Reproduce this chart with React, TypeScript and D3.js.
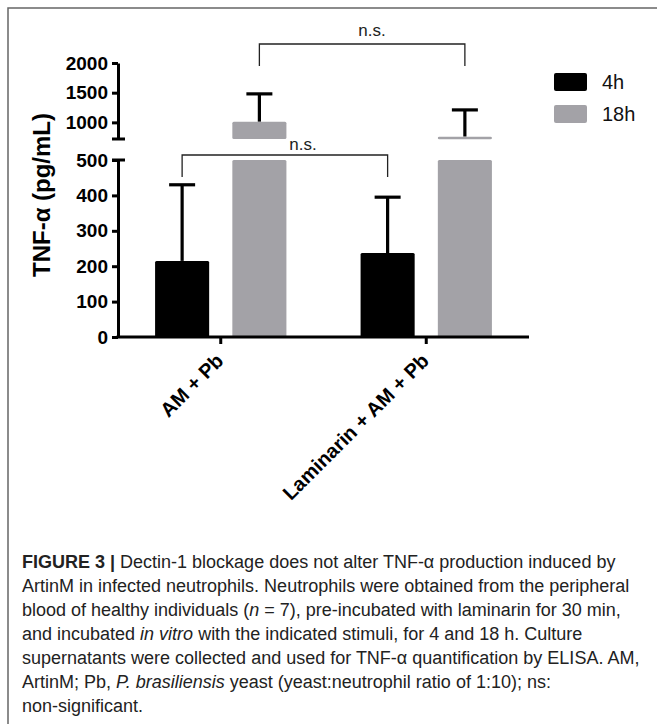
import React, { useEffect, useRef } from "react";
import * as d3 from "d3";

// groups and series
const groups = ["AM + Pb", "Laminarin + AM + Pb"];
const series = ["4h", "18h"];
const colors = ["#000000", "#a3a2a7"];

// means (pg/mL) and upper error (SD) per group
const mean4h = [215, 237];
const mean18h = [1010, 760];
const err4h = [215, 158];
const err18h = [470, 450];

const lowerTicks = [0, 100, 200, 300, 400, 500];
const upperTicks = [1000, 1500, 2000];

const caption = [
  [["b", "FIGURE 3 | "], ["r", "Dectin-1 blockage does not alter TNF-α production induced by"]],
  [["r", "ArtinM in infected neutrophils. Neutrophils were obtained from the peripheral"]],
  [["r", "blood of healthy individuals ("], ["i", "n"], ["r", " = 7), pre-incubated with laminarin for 30 min,"]],
  [["r", "and incubated "], ["i", "in vitro"], ["r", " with the indicated stimuli, for 4 and 18 h. Culture"]],
  [["r", "supernatants were collected and used for TNF-α quantification by ELISA. AM,"]],
  [["r", "ArtinM; Pb, "], ["i", "P. brasiliensis"], ["r", " yeast (yeast:neutrophil ratio of 1:10); ns:"]],
  [["r", "non-significant."]],
];

export default function App() {
  const ref = useRef<SVGSVGElement>(null);

  useEffect(() => {
    draw();
  }, []);

  const draw = () => {
    const svg = d3.select(ref.current);
    svg.selectAll("*").remove();

    // frame round the figure
    svg.append("rect")
      .attr("x", 8).attr("y", 8)
      .attr("width", 700).attr("height", 760)
      .attr("fill", "none").attr("stroke", "#666").attr("stroke-width", 1.5);

    const axisX = 118, xEnd = 529;
    const x0 = d3.scaleBand().domain(groups).range([axisX, xEnd]);
    const x1 = d3.scaleBand().domain(series).range([0, x0.bandwidth()])
      .paddingInner(0.3).paddingOuter(0.48);

    // broken y axis: two segments
    const yLow = d3.scaleLinear().domain([0, 500]).range([337, 160]);
    const yUp = d3.scaleLinear().domain([720, 2000]).range([139, 63]);
    const lowMax = 500, upMin = 720;

    const font = "'Liberation Sans', Arial, sans-serif";

    const g = svg.append("g");

    // bars
    const rows = groups.map((gr, i) => [
      { g: gr, s: series[0], v: mean4h[i], e: err4h[i], c: colors[0] },
      { g: gr, s: series[1], v: mean18h[i], e: err18h[i], c: colors[1] },
    ]).flat();

    rows.forEach(d => {
      const bx = x0(d.g)! + x1(d.s)!;
      const bw = x1.bandwidth();
      const cx = bx + bw / 2;
      const top = d.v + d.e;
      // error bar (drawn under the bar)
      const sw = 3.2, cap = 26;
      const ys = d.v > upMin ? yUp : yLow;
      g.append("line").attr("x1", cx).attr("x2", cx)
        .attr("y1", ys(d.v)).attr("y2", ys(top))
        .attr("stroke", "#000").attr("stroke-width", sw);
      g.append("line").attr("x1", cx - cap / 2).attr("x2", cx + cap / 2)
        .attr("y1", ys(top)).attr("y2", ys(top))
        .attr("stroke", "#000").attr("stroke-width", sw);
      // lower piece
      const lv = Math.min(d.v, lowMax);
      g.append("rect")
        .attr("x", bx).attr("width", bw)
        .attr("y", yLow(lv)).attr("height", yLow(0) - yLow(lv))
        .attr("rx", 1.5)
        .attr("fill", d.c);
      // upper piece
      if (d.v > upMin) {
        g.append("rect")
          .attr("x", bx).attr("width", bw)
          .attr("y", yUp(d.v)).attr("height", Math.max(2.5, yUp(upMin) - yUp(d.v)))
          .attr("rx", 1.5)
          .attr("fill", d.c);
      }
    });

    // y axes
    const styleAxis = (sel: any) => {
      sel.select(".domain").attr("stroke", "#000").attr("stroke-width", 3);
      sel.selectAll(".tick line").attr("stroke", "#000").attr("stroke-width", 3);
      sel.selectAll(".tick text")
        .attr("font-family", font).attr("font-weight", "bold")
        .attr("font-size", 19).attr("fill", "#000");
    };
    const fmt = d3.format("d");
    const lowAxis = svg.append("g").attr("transform", `translate(${axisX},0)`)
      .call(d3.axisLeft(yLow).tickValues(lowerTicks).tickFormat(fmt as any)
        .tickSize(6).tickSizeOuter(0).tickPadding(4));
    styleAxis(lowAxis);
    const upAxis = svg.append("g").attr("transform", `translate(${axisX},0)`)
      .call(d3.axisLeft(yUp).tickValues(upperTicks).tickFormat(fmt as any)
        .tickSize(6).tickSizeOuter(0).tickPadding(4));
    styleAxis(upAxis);

    // break caps crossing the axis
    [yLow(lowMax), yUp(upMin)].forEach(yy => {
      svg.append("line").attr("x1", axisX - 6).attr("x2", axisX + 7)
        .attr("y1", yy).attr("y2", yy)
        .attr("stroke", "#000").attr("stroke-width", 3);
    });

    // x axis
    const xAxis = svg.append("g").attr("transform", `translate(0,${yLow(0)})`)
      .call(d3.axisBottom(x0).tickSize(7).tickSizeOuter(0).tickFormat(() => ""));
    xAxis.select(".domain").attr("stroke", "#000").attr("stroke-width", 3)
      .attr("d", `M${axisX - 1.5},0H${xEnd}`);
    xAxis.selectAll(".tick line").attr("stroke", "#000").attr("stroke-width", 3);

    groups.forEach(gr => {
      const cx = x0(gr)! + x0.bandwidth() / 2;
      svg.append("text")
        .attr("transform", `translate(${cx + 4},${yLow(0) + 25}) rotate(-45)`)
        .attr("text-anchor", "end")
        .attr("font-family", font).attr("font-weight", "bold")
        .attr("font-size", 20)
        .text(gr);
    });

    // y title
    svg.append("text")
      .attr("transform", "translate(50,195) rotate(-90)")
      .attr("text-anchor", "middle")
      .attr("font-family", font).attr("font-weight", "bold")
      .attr("font-size", 24)
      .text("TNF-α (pg/mL)");

    // significance brackets
    const center = (gr: string, s: string) => x0(gr)! + x1(s)! + x1.bandwidth() / 2;
    const brackets = [
      { s: "18h", y: 44, drop: 66, label: "n.s.", lx: 372, ly: 36 },
      { s: "4h", y: 155, drop: 177, label: "n.s.", lx: 303, ly: 150 },
    ];
    brackets.forEach(b => {
      const xa = center(groups[0], b.s), xb = center(groups[1], b.s);
      svg.append("path")
        .attr("d", `M${xa},${b.drop}V${b.y}H${xb}V${b.drop}`)
        .attr("fill", "none").attr("stroke", "#222").attr("stroke-width", 1.3);
      svg.append("text")
        .attr("x", b.lx).attr("y", b.ly)
        .attr("text-anchor", "middle")
        .attr("font-family", font).attr("font-size", 17).attr("fill", "#222")
        .text(b.label);
    });

    // legend
    series.forEach((s, i) => {
      const ly = 73 + i * 32;
      svg.append("rect")
        .attr("x", 554).attr("y", ly).attr("width", 33).attr("height", 18)
        .attr("rx", 2).attr("fill", colors[i]);
      svg.append("text")
        .attr("x", 602).attr("y", ly + 16)
        .attr("font-family", font).attr("font-size", 20).attr("fill", "#111")
        .text(s);
    });

    // caption
    const cap = svg.append("text")
      .attr("font-family", font).attr("font-size", 18).attr("fill", "#222");
    caption.forEach((line, li) => {
      line.forEach((part, pi) => {
        const t = cap.append("tspan").text(part[1]);
        if (pi === 0) t.attr("x", 22).attr("y", 568 + li * 24);
        if (part[0] === "b") t.attr("font-weight", "bold");
        if (part[0] === "i") t.attr("font-style", "italic");
      });
    });
  };

  return (
    <svg ref={ref} width={657} height={724}
      style={{ position: "absolute", left: 0, top: 0, background: "#fff", display: "block" }} />
  );
}
